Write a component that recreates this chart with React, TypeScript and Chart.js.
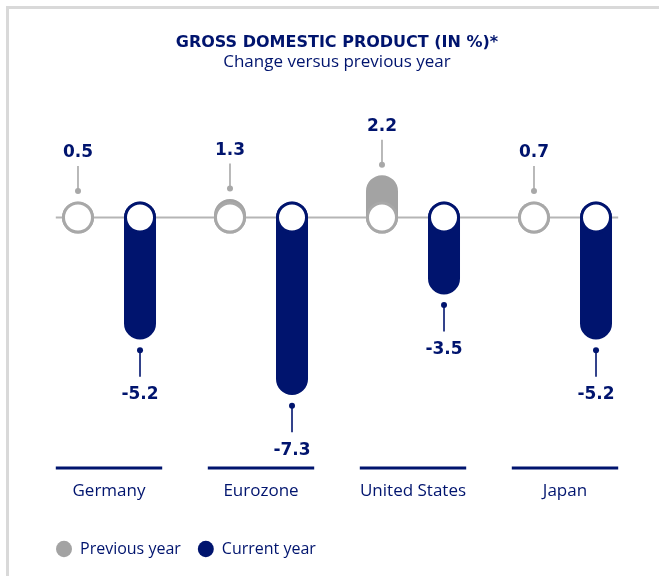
import React, { useEffect, useRef } from "react";
import { Chart, registerables } from "chart.js";

Chart.register(...registerables);

const categories = ["Germany", "Eurozone", "United States", "Japan"];
const previousYear = [0.5, 1.3, 2.2, 0.7];
const currentYear = [-5.2, -7.3, -3.5, -5.2];
const seriesNames = ["Previous year", "Current year"];
const titleText = "GROSS DOMESTIC PRODUCT (IN %)*";
const subtitleText = "Change versus previous year";

const NAVY = "#00146e";
const GRAY = "#a3a3a3";
const RING_GRAY = "#a8a8a8";
const BASE_GRAY = "#b5b5b5";
const FONT = "'Open Sans', Lato, sans-serif";
const BOLD_FONT = "'DejaVu Sans', 'Open Sans', sans-serif";
const CAP = 0.6; // value span hidden behind the zero circle (style)

const pill = (v: number): [number, number] =>
  v >= 0 ? [-CAP, Math.max(v, 2 * CAP) - CAP] : [CAP, Math.min(v, -2 * CAP) + CAP];

const fmt = (v: number) => (v < 0 ? "-" + Math.abs(v).toFixed(1) : v.toFixed(1));

const decor = {
  id: "decor",
  afterLayout(chart: any) {
    if (chart.legend) chart.legend.left += 6;
  },
  beforeDatasetsDraw(chart: any) {
    const { ctx, scales } = chart;
    const x = scales.x;
    const y = scales.y;
    const zero = y.getPixelForValue(0);
    const half = (x.getPixelForValue(1) - x.getPixelForValue(0)) * 0.35;
    ctx.save();
    ctx.strokeStyle = BASE_GRAY;
    ctx.lineWidth = 2;
    ctx.beginPath();
    ctx.moveTo(x.getPixelForValue(0) - half, zero);
    ctx.lineTo(x.getPixelForValue(categories.length - 1) + half, zero);
    ctx.stroke();
    ctx.strokeStyle = NAVY;
    ctx.lineWidth = 3;
    categories.forEach((_, i) => {
      const cx = x.getPixelForValue(i);
      ctx.beginPath();
      ctx.moveTo(cx - half, chart.chartArea.bottom + 3);
      ctx.lineTo(cx + half, chart.chartArea.bottom + 3);
      ctx.stroke();
    });
    ctx.restore();
  },
  afterDatasetsDraw(chart: any) {
    const { ctx, scales } = chart;
    const y = scales.y;
    const zero = y.getPixelForValue(0);
    const series = [previousYear, currentYear];
    const fontSize = 17;
    ctx.save();
    series.forEach((vals, di) => {
      const meta = chart.getDatasetMeta(di);
      const ring = di === 0 ? RING_GRAY : NAVY;
      meta.data.forEach((el: any, i: number) => {
        const v = vals[i];
        const R = el.width / 2;
        ctx.beginPath();
        ctx.arc(el.x, zero, R - 1.5, 0, Math.PI * 2);
        ctx.fillStyle = "#ffffff";
        ctx.fill();
        ctx.lineWidth = 3;
        ctx.strokeStyle = ring;
        ctx.stroke();
        const lineColor = v >= 0 ? RING_GRAY : NAVY;
        let dotY: number, endY: number, labelY: number;
        if (v >= 0) {
          const top = Math.min(el.y, el.base, zero - R);
          dotY = top - 10.5;
          endY = dotY - 25;
          labelY = endY - 15;
        } else {
          const bottom = Math.max(el.y, el.base, zero + R);
          dotY = bottom + 10.7;
          endY = dotY + 26.5;
          labelY = endY + 16.5;
        }
        ctx.strokeStyle = lineColor;
        ctx.lineWidth = 1.6;
        ctx.beginPath();
        ctx.moveTo(el.x, dotY);
        ctx.lineTo(el.x, endY);
        ctx.stroke();
        ctx.beginPath();
        ctx.arc(el.x, dotY, 3, 0, Math.PI * 2);
        ctx.fillStyle = lineColor;
        ctx.fill();
        ctx.fillStyle = NAVY;
        ctx.font = `bold ${fontSize}px ${BOLD_FONT}`;
        ctx.textAlign = "center";
        ctx.textBaseline = "alphabetic";
        ctx.fillText(fmt(v), el.x, labelY + fontSize * 0.365);
      });
    });
    ctx.restore();
  },
};

export default function App() {
  const ref = useRef<HTMLCanvasElement>(null);
  useEffect(() => {
    const chart = new Chart(ref.current as HTMLCanvasElement, {
      type: "bar",
      data: {
        labels: categories,
        datasets: [
          {
            label: seriesNames[0],
            data: previousYear.map(pill),
            backgroundColor: GRAY,
            borderWidth: 0,
            borderRadius: 100,
            borderSkipped: false,
            categoryPercentage: 0.816,
            barPercentage: 0.516,
          },
          {
            label: seriesNames[1],
            data: currentYear.map(pill),
            backgroundColor: NAVY,
            borderWidth: 0,
            borderRadius: 100,
            borderSkipped: false,
            categoryPercentage: 0.816,
            barPercentage: 0.516,
          },
        ],
      } as any,
      options: {
        animation: false,
        responsive: true,
        maintainAspectRatio: false,
        events: [],
        layout: { padding: { left: 33, right: 18, top: 0, bottom: 9 } },
        scales: {
          x: {
            grid: { display: false, drawTicks: false },
            border: { display: false },
            ticks: { color: NAVY, font: { family: FONT, size: 17 }, padding: 16 },
            afterFit: (scale: any) => {
              scale.height = 59;
            },
          },
          y: { display: false, min: -9.34, max: 4.4 },
        },
        plugins: {
          tooltip: { enabled: false },
          title: {
            display: true,
            text: titleText,
            color: NAVY,
            font: { family: BOLD_FONT, size: 16, weight: "bold", lineHeight: 1 },
            padding: { top: 35, bottom: 0 },
          },
          subtitle: {
            display: true,
            text: subtitleText,
            color: NAVY,
            font: { family: FONT, size: 17, weight: "normal", lineHeight: 1 },
            padding: { top: 3, bottom: 30 },
          },
          legend: {
            position: "bottom",
            align: "start",
            labels: {
              color: NAVY,
              font: { family: FONT, size: 16 },
              usePointStyle: true,
              pointStyle: "circle",
              pointStyleWidth: 16,
              boxHeight: 11.5,
              padding: 17,
            },
          },
        },
      } as any,
      plugins: [decor],
    });
    return () => chart.destroy();
  }, []);
  return (
    <>
      <div
        style={{
          position: "fixed",
          left: 6,
          top: 6,
          width: 720,
          height: 640,
          borderLeft: "3px solid #d9d9d9",
          borderTop: "3px solid #d9d9d9",
          boxSizing: "border-box",
        }}
      />
      <div style={{ position: "fixed", left: 0, top: 0, width: 659, height: 576 }}>
        <canvas ref={ref} style={{ display: "block" }} />
      </div>
    </>
  );
}
